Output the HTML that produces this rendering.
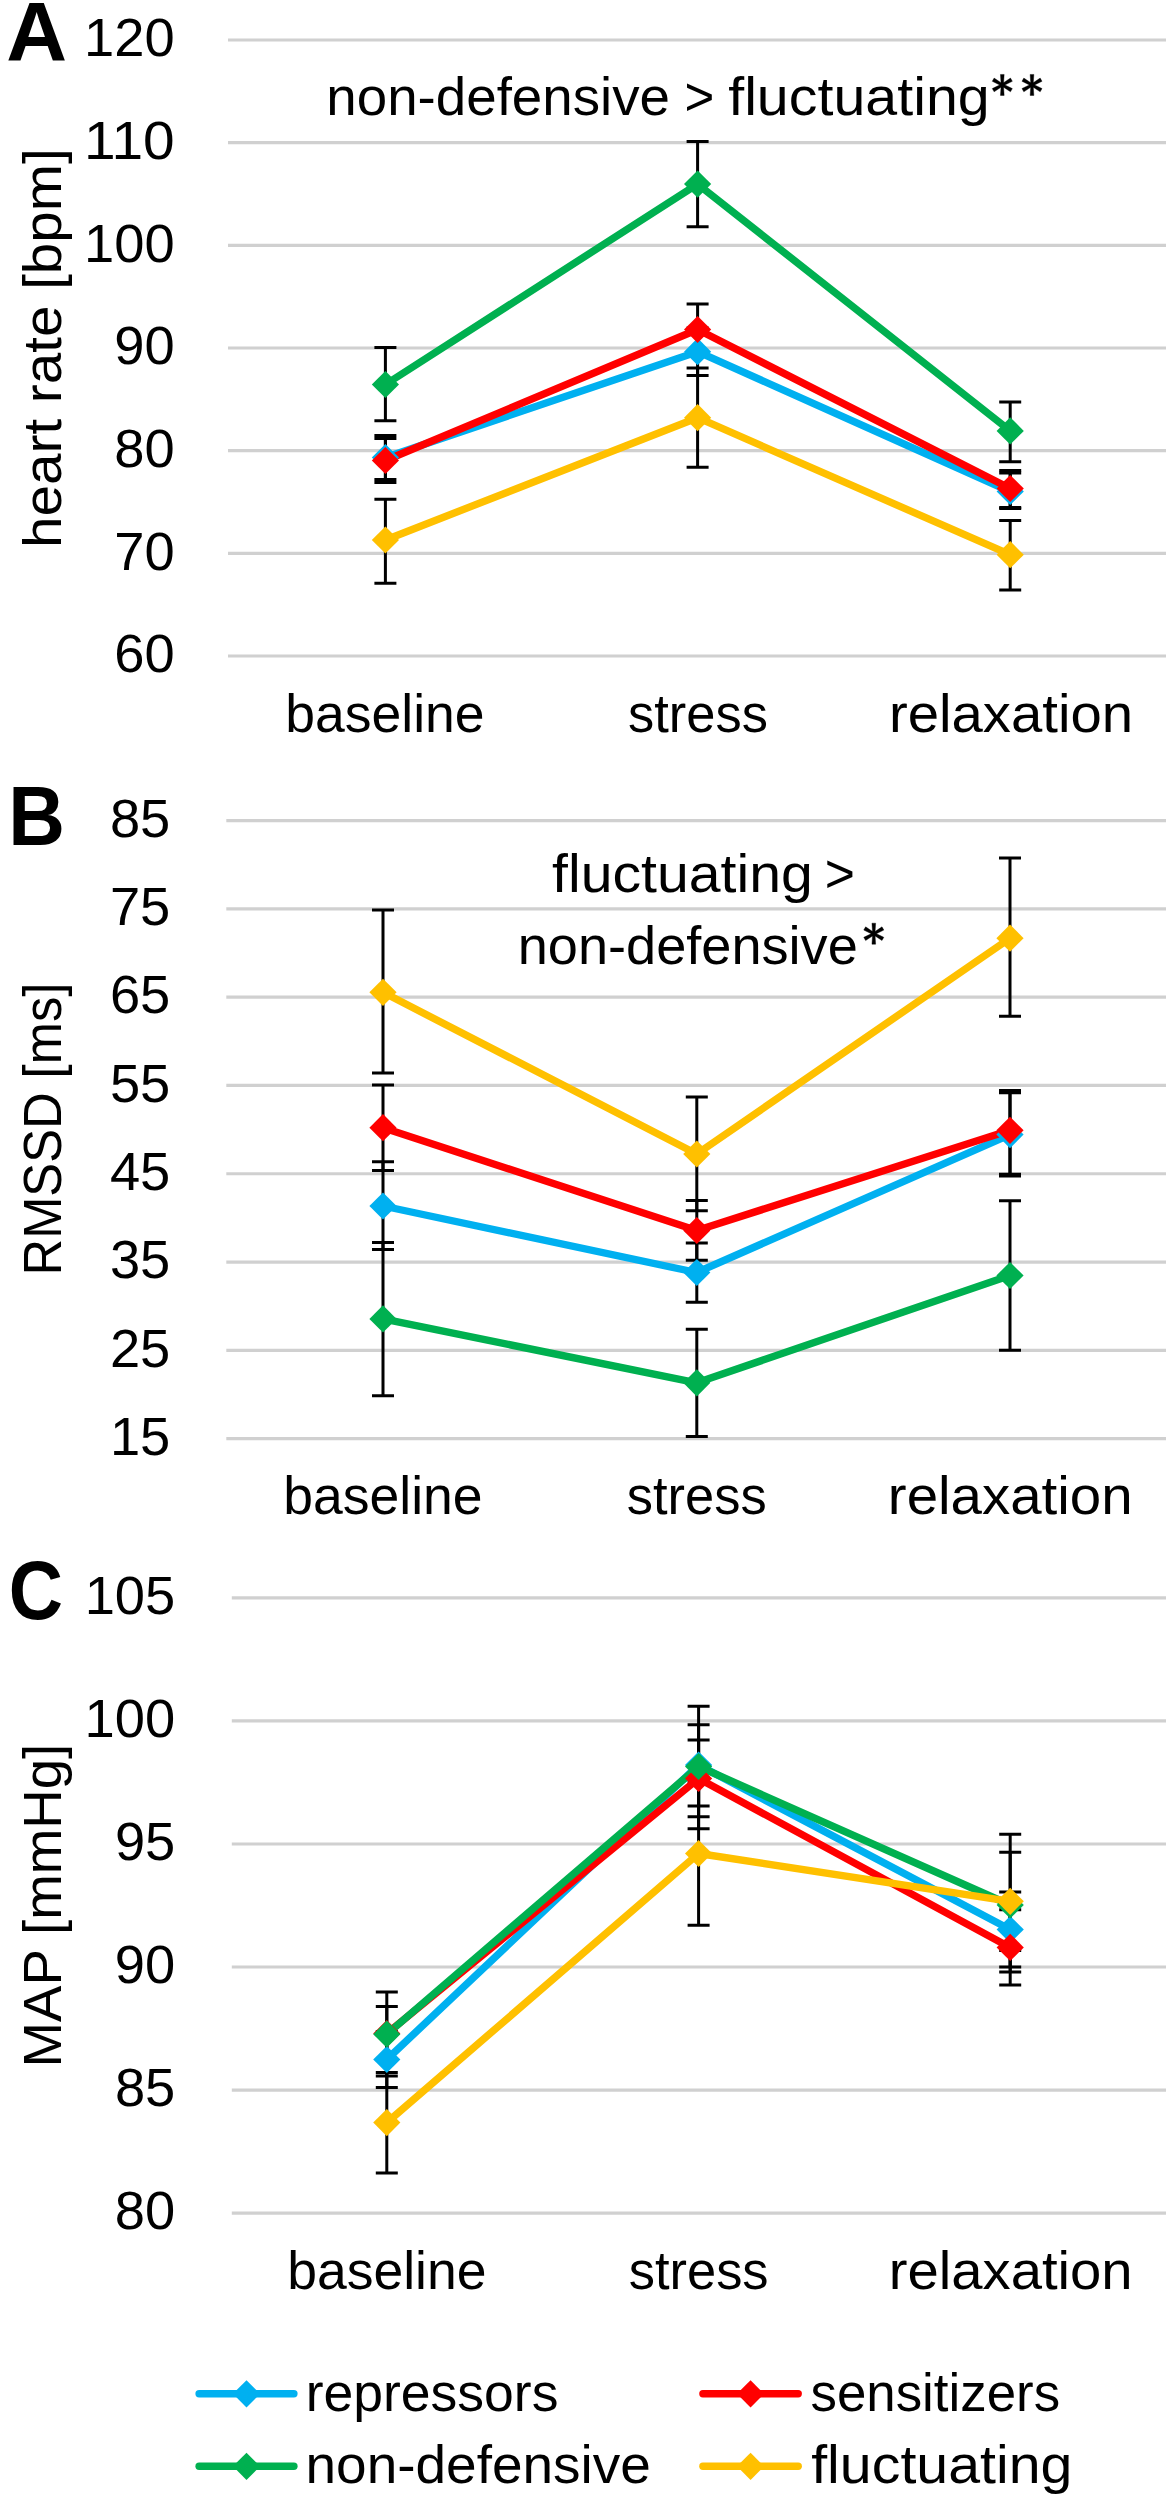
<!DOCTYPE html>
<html><head><meta charset="utf-8"><style>
html,body{margin:0;padding:0;background:#fff;}
svg{display:block;}
text{font-family:"Liberation Sans",sans-serif;fill:#000;}
</style></head><body>
<svg width="1171" height="2500" viewBox="0 0 1171 2500">
<rect width="1171" height="2500" fill="#fff"/>
<line x1="228" y1="40.00" x2="1166" y2="40.00" stroke="#d0d0d0" stroke-width="3.2"/>
<line x1="228" y1="142.67" x2="1166" y2="142.67" stroke="#d0d0d0" stroke-width="3.2"/>
<line x1="228" y1="245.34" x2="1166" y2="245.34" stroke="#d0d0d0" stroke-width="3.2"/>
<line x1="228" y1="348.01" x2="1166" y2="348.01" stroke="#d0d0d0" stroke-width="3.2"/>
<line x1="228" y1="450.68" x2="1166" y2="450.68" stroke="#d0d0d0" stroke-width="3.2"/>
<line x1="228" y1="553.35" x2="1166" y2="553.35" stroke="#d0d0d0" stroke-width="3.2"/>
<line x1="228" y1="656.02" x2="1166" y2="656.02" stroke="#d0d0d0" stroke-width="3.2"/>
<path d="M385.40 435.50V479.50M374.40 435.50H396.40M374.40 479.50H396.40" stroke="#000" stroke-width="3.0" fill="none"/>
<path d="M697.60 328.00V375.40M686.60 328.00H708.60M686.60 375.40H708.60" stroke="#000" stroke-width="3.0" fill="none"/>
<path d="M1010.20 473.00V508.50M999.20 473.00H1021.20M999.20 508.50H1021.20" stroke="#000" stroke-width="3.0" fill="none"/>
<path d="M385.40 438.50V482.50M374.40 438.50H396.40M374.40 482.50H396.40" stroke="#000" stroke-width="3.0" fill="none"/>
<path d="M697.60 304.10V355.00M686.60 304.10H708.60M686.60 355.00H708.60" stroke="#000" stroke-width="3.0" fill="none"/>
<path d="M1010.20 470.50V507.50M999.20 470.50H1021.20M999.20 507.50H1021.20" stroke="#000" stroke-width="3.0" fill="none"/>
<path d="M385.40 347.60V420.80M374.40 347.60H396.40M374.40 420.80H396.40" stroke="#000" stroke-width="3.0" fill="none"/>
<path d="M697.60 141.40V226.80M686.60 141.40H708.60M686.60 226.80H708.60" stroke="#000" stroke-width="3.0" fill="none"/>
<path d="M1010.20 401.90V461.80M999.20 401.90H1021.20M999.20 461.80H1021.20" stroke="#000" stroke-width="3.0" fill="none"/>
<path d="M385.40 499.20V583.30M374.40 499.20H396.40M374.40 583.30H396.40" stroke="#000" stroke-width="3.0" fill="none"/>
<path d="M697.60 368.10V467.20M686.60 368.10H708.60M686.60 467.20H708.60" stroke="#000" stroke-width="3.0" fill="none"/>
<path d="M1010.20 520.50V590.00M999.20 520.50H1021.20M999.20 590.00H1021.20" stroke="#000" stroke-width="3.0" fill="none"/>
<path d="M385.40 457.50L697.60 351.70L1010.20 491.50" stroke="#00b0f0" stroke-width="7.4" fill="none" stroke-linejoin="round"/>
<path d="M385.40 460.50L697.60 329.50L1010.20 488.50" stroke="#ff0000" stroke-width="7.4" fill="none" stroke-linejoin="round"/>
<path d="M385.40 384.50L697.60 184.10L1010.20 430.90" stroke="#00b050" stroke-width="7.4" fill="none" stroke-linejoin="round"/>
<path d="M385.40 540.00L697.60 417.70L1010.20 554.70" stroke="#ffc000" stroke-width="7.4" fill="none" stroke-linejoin="round"/>
<path d="M385.40 443.90L399.00 457.50L385.40 471.10L371.80 457.50Z" fill="#00b0f0"/>
<path d="M697.60 338.10L711.20 351.70L697.60 365.30L684.00 351.70Z" fill="#00b0f0"/>
<path d="M1010.20 477.90L1023.80 491.50L1010.20 505.10L996.60 491.50Z" fill="#00b0f0"/>
<path d="M385.40 446.90L399.00 460.50L385.40 474.10L371.80 460.50Z" fill="#ff0000"/>
<path d="M697.60 315.90L711.20 329.50L697.60 343.10L684.00 329.50Z" fill="#ff0000"/>
<path d="M1010.20 474.90L1023.80 488.50L1010.20 502.10L996.60 488.50Z" fill="#ff0000"/>
<path d="M385.40 370.90L399.00 384.50L385.40 398.10L371.80 384.50Z" fill="#00b050"/>
<path d="M697.60 170.50L711.20 184.10L697.60 197.70L684.00 184.10Z" fill="#00b050"/>
<path d="M1010.20 417.30L1023.80 430.90L1010.20 444.50L996.60 430.90Z" fill="#00b050"/>
<path d="M385.40 526.40L399.00 540.00L385.40 553.60L371.80 540.00Z" fill="#ffc000"/>
<path d="M697.60 404.10L711.20 417.70L697.60 431.30L684.00 417.70Z" fill="#ffc000"/>
<path d="M1010.20 541.10L1023.80 554.70L1010.20 568.30L996.60 554.70Z" fill="#ffc000"/>
<line x1="226.3" y1="820.60" x2="1166" y2="820.60" stroke="#d0d0d0" stroke-width="3.2"/>
<line x1="226.3" y1="908.89" x2="1166" y2="908.89" stroke="#d0d0d0" stroke-width="3.2"/>
<line x1="226.3" y1="997.18" x2="1166" y2="997.18" stroke="#d0d0d0" stroke-width="3.2"/>
<line x1="226.3" y1="1085.47" x2="1166" y2="1085.47" stroke="#d0d0d0" stroke-width="3.2"/>
<line x1="226.3" y1="1173.76" x2="1166" y2="1173.76" stroke="#d0d0d0" stroke-width="3.2"/>
<line x1="226.3" y1="1262.05" x2="1166" y2="1262.05" stroke="#d0d0d0" stroke-width="3.2"/>
<line x1="226.3" y1="1350.34" x2="1166" y2="1350.34" stroke="#d0d0d0" stroke-width="3.2"/>
<line x1="226.3" y1="1438.63" x2="1166" y2="1438.63" stroke="#d0d0d0" stroke-width="3.2"/>
<path d="M383.00 1161.80V1249.50M372.00 1161.80H394.00M372.00 1249.50H394.00" stroke="#000" stroke-width="3.0" fill="none"/>
<path d="M696.80 1243.00V1302.20M685.80 1243.00H707.80M685.80 1302.20H707.80" stroke="#000" stroke-width="3.0" fill="none"/>
<path d="M1010.00 1092.80V1176.00M999.00 1092.80H1021.00M999.00 1176.00H1021.00" stroke="#000" stroke-width="3.0" fill="none"/>
<path d="M383.00 1085.00V1170.40M372.00 1085.00H394.00M372.00 1170.40H394.00" stroke="#000" stroke-width="3.0" fill="none"/>
<path d="M696.80 1200.40V1260.30M685.80 1200.40H707.80M685.80 1260.30H707.80" stroke="#000" stroke-width="3.0" fill="none"/>
<path d="M1010.00 1090.60V1174.30M999.00 1090.60H1021.00M999.00 1174.30H1021.00" stroke="#000" stroke-width="3.0" fill="none"/>
<path d="M383.00 1242.40V1395.70M372.00 1242.40H394.00M372.00 1395.70H394.00" stroke="#000" stroke-width="3.0" fill="none"/>
<path d="M696.80 1329.20V1436.50M685.80 1329.20H707.80M685.80 1436.50H707.80" stroke="#000" stroke-width="3.0" fill="none"/>
<path d="M1010.00 1200.80V1350.20M999.00 1200.80H1021.00M999.00 1350.20H1021.00" stroke="#000" stroke-width="3.0" fill="none"/>
<path d="M383.00 909.90V1073.00M372.00 909.90H394.00M372.00 1073.00H394.00" stroke="#000" stroke-width="3.0" fill="none"/>
<path d="M696.80 1096.90V1210.80M685.80 1096.90H707.80M685.80 1210.80H707.80" stroke="#000" stroke-width="3.0" fill="none"/>
<path d="M1010.00 857.90V1016.30M999.00 857.90H1021.00M999.00 1016.30H1021.00" stroke="#000" stroke-width="3.0" fill="none"/>
<path d="M383.00 1206.00L696.80 1272.50L1010.00 1134.60" stroke="#00b0f0" stroke-width="7.4" fill="none" stroke-linejoin="round"/>
<path d="M383.00 1127.70L696.80 1230.50L1010.00 1130.30" stroke="#ff0000" stroke-width="7.4" fill="none" stroke-linejoin="round"/>
<path d="M383.00 1318.90L696.80 1382.80L1010.00 1275.50" stroke="#00b050" stroke-width="7.4" fill="none" stroke-linejoin="round"/>
<path d="M383.00 992.30L696.80 1154.00L1010.00 938.20" stroke="#ffc000" stroke-width="7.4" fill="none" stroke-linejoin="round"/>
<path d="M383.00 1192.40L396.60 1206.00L383.00 1219.60L369.40 1206.00Z" fill="#00b0f0"/>
<path d="M696.80 1258.90L710.40 1272.50L696.80 1286.10L683.20 1272.50Z" fill="#00b0f0"/>
<path d="M1010.00 1121.00L1023.60 1134.60L1010.00 1148.20L996.40 1134.60Z" fill="#00b0f0"/>
<path d="M383.00 1114.10L396.60 1127.70L383.00 1141.30L369.40 1127.70Z" fill="#ff0000"/>
<path d="M696.80 1216.90L710.40 1230.50L696.80 1244.10L683.20 1230.50Z" fill="#ff0000"/>
<path d="M1010.00 1116.70L1023.60 1130.30L1010.00 1143.90L996.40 1130.30Z" fill="#ff0000"/>
<path d="M383.00 1305.30L396.60 1318.90L383.00 1332.50L369.40 1318.90Z" fill="#00b050"/>
<path d="M696.80 1369.20L710.40 1382.80L696.80 1396.40L683.20 1382.80Z" fill="#00b050"/>
<path d="M1010.00 1261.90L1023.60 1275.50L1010.00 1289.10L996.40 1275.50Z" fill="#00b050"/>
<path d="M383.00 978.70L396.60 992.30L383.00 1005.90L369.40 992.30Z" fill="#ffc000"/>
<path d="M696.80 1140.40L710.40 1154.00L696.80 1167.60L683.20 1154.00Z" fill="#ffc000"/>
<path d="M1010.00 924.60L1023.60 938.20L1010.00 951.80L996.40 938.20Z" fill="#ffc000"/>
<line x1="231.8" y1="1597.90" x2="1166" y2="1597.90" stroke="#d0d0d0" stroke-width="3.2"/>
<line x1="231.8" y1="1720.94" x2="1166" y2="1720.94" stroke="#d0d0d0" stroke-width="3.2"/>
<line x1="231.8" y1="1843.98" x2="1166" y2="1843.98" stroke="#d0d0d0" stroke-width="3.2"/>
<line x1="231.8" y1="1967.02" x2="1166" y2="1967.02" stroke="#d0d0d0" stroke-width="3.2"/>
<line x1="231.8" y1="2090.06" x2="1166" y2="2090.06" stroke="#d0d0d0" stroke-width="3.2"/>
<line x1="231.8" y1="2213.10" x2="1166" y2="2213.10" stroke="#d0d0d0" stroke-width="3.2"/>
<path d="M386.80 2031.40V2087.60M375.80 2031.40H397.80M375.80 2087.60H397.80" stroke="#000" stroke-width="3.0" fill="none"/>
<path d="M698.60 1724.80V1806.10M687.60 1724.80H709.60M687.60 1806.10H709.60" stroke="#000" stroke-width="3.0" fill="none"/>
<path d="M1010.20 1891.90V1967.00M999.20 1891.90H1021.20M999.20 1967.00H1021.20" stroke="#000" stroke-width="3.0" fill="none"/>
<path d="M386.80 2006.40V2059.60M375.80 2006.40H397.80M375.80 2059.60H397.80" stroke="#000" stroke-width="3.0" fill="none"/>
<path d="M698.60 1740.00V1816.80M687.60 1740.00H709.60M687.60 1816.80H709.60" stroke="#000" stroke-width="3.0" fill="none"/>
<path d="M1010.20 1909.80V1985.00M999.20 1909.80H1021.20M999.20 1985.00H1021.20" stroke="#000" stroke-width="3.0" fill="none"/>
<path d="M386.80 1992.10V2076.00M375.80 1992.10H397.80M375.80 2076.00H397.80" stroke="#000" stroke-width="3.0" fill="none"/>
<path d="M698.60 1706.20V1828.80M687.60 1706.20H709.60M687.60 1828.80H709.60" stroke="#000" stroke-width="3.0" fill="none"/>
<path d="M1010.20 1834.30V1972.00M999.20 1834.30H1021.20M999.20 1972.00H1021.20" stroke="#000" stroke-width="3.0" fill="none"/>
<path d="M386.80 2072.40V2172.90M375.80 2072.40H397.80M375.80 2172.90H397.80" stroke="#000" stroke-width="3.0" fill="none"/>
<path d="M698.60 1781.80V1925.20M687.60 1781.80H709.60M687.60 1925.20H709.60" stroke="#000" stroke-width="3.0" fill="none"/>
<path d="M1010.20 1852.20V1950.40M999.20 1852.20H1021.20M999.20 1950.40H1021.20" stroke="#000" stroke-width="3.0" fill="none"/>
<path d="M386.80 2059.50L698.60 1765.00L1010.20 1929.50" stroke="#00b0f0" stroke-width="7.4" fill="none" stroke-linejoin="round"/>
<path d="M386.80 2033.50L698.60 1778.50L1010.20 1947.40" stroke="#ff0000" stroke-width="7.4" fill="none" stroke-linejoin="round"/>
<path d="M386.80 2034.20L698.60 1766.50L1010.20 1905.00" stroke="#00b050" stroke-width="7.4" fill="none" stroke-linejoin="round"/>
<path d="M386.80 2122.60L698.60 1853.50L1010.20 1901.30" stroke="#ffc000" stroke-width="7.4" fill="none" stroke-linejoin="round"/>
<path d="M386.80 2045.90L400.40 2059.50L386.80 2073.10L373.20 2059.50Z" fill="#00b0f0"/>
<path d="M698.60 1751.40L712.20 1765.00L698.60 1778.60L685.00 1765.00Z" fill="#00b0f0"/>
<path d="M1010.20 1915.90L1023.80 1929.50L1010.20 1943.10L996.60 1929.50Z" fill="#00b0f0"/>
<path d="M386.80 2019.90L400.40 2033.50L386.80 2047.10L373.20 2033.50Z" fill="#ff0000"/>
<path d="M698.60 1764.90L712.20 1778.50L698.60 1792.10L685.00 1778.50Z" fill="#ff0000"/>
<path d="M1010.20 1933.80L1023.80 1947.40L1010.20 1961.00L996.60 1947.40Z" fill="#ff0000"/>
<path d="M386.80 2020.60L400.40 2034.20L386.80 2047.80L373.20 2034.20Z" fill="#00b050"/>
<path d="M698.60 1752.90L712.20 1766.50L698.60 1780.10L685.00 1766.50Z" fill="#00b050"/>
<path d="M1010.20 1891.40L1023.80 1905.00L1010.20 1918.60L996.60 1905.00Z" fill="#00b050"/>
<path d="M386.80 2109.00L400.40 2122.60L386.80 2136.20L373.20 2122.60Z" fill="#ffc000"/>
<path d="M698.60 1839.90L712.20 1853.50L698.60 1867.10L685.00 1853.50Z" fill="#ffc000"/>
<path d="M1010.20 1887.70L1023.80 1901.30L1010.20 1914.90L996.60 1901.30Z" fill="#ffc000"/>
<line x1="199.10" y1="2393.80" x2="293.90" y2="2393.80" stroke="#00b0f0" stroke-width="7.4" stroke-linecap="round"/>
<path d="M246.50 2380.20L260.10 2393.80L246.50 2407.40L232.90 2393.80Z" fill="#00b0f0"/>
<line x1="702.90" y1="2393.80" x2="798.20" y2="2393.80" stroke="#ff0000" stroke-width="7.4" stroke-linecap="round"/>
<path d="M750.55 2380.20L764.15 2393.80L750.55 2407.40L736.95 2393.80Z" fill="#ff0000"/>
<line x1="199.10" y1="2466.30" x2="293.90" y2="2466.30" stroke="#00b050" stroke-width="7.4" stroke-linecap="round"/>
<path d="M246.50 2452.70L260.10 2466.30L246.50 2479.90L232.90 2466.30Z" fill="#00b050"/>
<line x1="702.90" y1="2466.30" x2="798.20" y2="2466.30" stroke="#ffc000" stroke-width="7.4" stroke-linecap="round"/>
<path d="M750.55 2452.70L764.15 2466.30L750.55 2479.90L736.95 2466.30Z" fill="#ffc000"/>
<text x="6.20" y="60.90" font-size="82.85" font-weight="bold" textLength="60.82" lengthAdjust="spacingAndGlyphs">A</text>
<text x="8.15" y="844.80" font-size="82.70" font-weight="bold" textLength="56.72" lengthAdjust="spacingAndGlyphs">B</text>
<text x="8.72" y="1619.00" font-size="83.07" font-weight="bold" textLength="54.23" lengthAdjust="spacingAndGlyphs">C</text>
<text x="84.02" y="56.30" font-size="54.30" font-weight="normal" textLength="90.60" lengthAdjust="spacingAndGlyphs">120</text>
<text x="84.02" y="158.97" font-size="54.30" font-weight="normal" textLength="90.60" lengthAdjust="spacingAndGlyphs">110</text>
<text x="84.02" y="261.64" font-size="54.30" font-weight="normal" textLength="90.60" lengthAdjust="spacingAndGlyphs">100</text>
<text x="114.22" y="364.31" font-size="54.30" font-weight="normal" textLength="60.40" lengthAdjust="spacingAndGlyphs">90</text>
<text x="114.22" y="466.98" font-size="54.30" font-weight="normal" textLength="60.40" lengthAdjust="spacingAndGlyphs">80</text>
<text x="114.22" y="569.65" font-size="54.30" font-weight="normal" textLength="60.40" lengthAdjust="spacingAndGlyphs">70</text>
<text x="114.22" y="672.32" font-size="54.30" font-weight="normal" textLength="60.40" lengthAdjust="spacingAndGlyphs">60</text>
<text x="109.88" y="836.90" font-size="54.30" font-weight="normal" textLength="60.40" lengthAdjust="spacingAndGlyphs">85</text>
<text x="109.88" y="925.19" font-size="54.30" font-weight="normal" textLength="60.40" lengthAdjust="spacingAndGlyphs">75</text>
<text x="109.88" y="1013.48" font-size="54.30" font-weight="normal" textLength="60.40" lengthAdjust="spacingAndGlyphs">65</text>
<text x="109.88" y="1101.77" font-size="54.30" font-weight="normal" textLength="60.40" lengthAdjust="spacingAndGlyphs">55</text>
<text x="109.88" y="1190.06" font-size="54.30" font-weight="normal" textLength="60.40" lengthAdjust="spacingAndGlyphs">45</text>
<text x="109.88" y="1278.35" font-size="54.30" font-weight="normal" textLength="60.40" lengthAdjust="spacingAndGlyphs">35</text>
<text x="109.88" y="1366.64" font-size="54.30" font-weight="normal" textLength="60.40" lengthAdjust="spacingAndGlyphs">25</text>
<text x="109.88" y="1454.93" font-size="54.30" font-weight="normal" textLength="60.40" lengthAdjust="spacingAndGlyphs">15</text>
<text x="84.68" y="1614.20" font-size="54.30" font-weight="normal" textLength="90.60" lengthAdjust="spacingAndGlyphs">105</text>
<text x="84.52" y="1737.24" font-size="54.30" font-weight="normal" textLength="90.60" lengthAdjust="spacingAndGlyphs">100</text>
<text x="114.88" y="1860.28" font-size="54.30" font-weight="normal" textLength="60.40" lengthAdjust="spacingAndGlyphs">95</text>
<text x="114.72" y="1983.32" font-size="54.30" font-weight="normal" textLength="60.40" lengthAdjust="spacingAndGlyphs">90</text>
<text x="114.88" y="2106.36" font-size="54.30" font-weight="normal" textLength="60.40" lengthAdjust="spacingAndGlyphs">85</text>
<text x="114.72" y="2229.40" font-size="54.30" font-weight="normal" textLength="60.40" lengthAdjust="spacingAndGlyphs">80</text>
<text transform="rotate(-90)" x="-547.93" y="60.90" font-size="53.00" textLength="399.66" lengthAdjust="spacingAndGlyphs">heart rate [bpm]</text>
<text transform="rotate(-90)" x="-1275.46" y="60.90" font-size="53.00" textLength="292.77" lengthAdjust="spacingAndGlyphs">RMSSD [ms]</text>
<text transform="rotate(-90)" x="-2067.47" y="60.90" font-size="53.00" textLength="323.75" lengthAdjust="spacingAndGlyphs">MAP [mmHg]</text>
<text x="326.37" y="114.80" font-size="53.00" font-weight="normal" textLength="343.56" lengthAdjust="spacingAndGlyphs">non-defensive</text>
<text x="684.58" y="114.80" font-size="53.00" font-weight="normal" textLength="29.81" lengthAdjust="spacingAndGlyphs">&gt;</text>
<text x="728.19" y="114.80" font-size="53.00" font-weight="normal" textLength="261.51" lengthAdjust="spacingAndGlyphs">fluctuating</text>
<text x="552.09" y="891.90" font-size="53.00" font-weight="normal" textLength="260.70" lengthAdjust="spacingAndGlyphs">fluctuating</text>
<text x="824.75" y="891.90" font-size="53.00" font-weight="normal" textLength="30.17" lengthAdjust="spacingAndGlyphs">&gt;</text>
<text x="517.70" y="964.00" font-size="53.00" font-weight="normal" textLength="340.10" lengthAdjust="spacingAndGlyphs">non-defensive</text>
<path d="M1004.15 74.45L1003.45 84.95L1004.15 95.45L1000.45 95.45L1001.15 84.95L1000.45 74.45ZM1012.32 81.30L1002.88 85.95L994.13 91.80L992.28 88.60L1001.72 83.95L1010.47 78.10ZM1010.47 91.80L1001.72 85.95L992.28 81.30L994.13 78.10L1002.88 83.95L1012.32 88.60Z" fill="#000" stroke="#000" stroke-width="0.4" stroke-linejoin="round"/>
<path d="M1033.85 74.45L1033.15 84.95L1033.85 95.45L1030.15 95.45L1030.85 84.95L1030.15 74.45ZM1042.02 81.30L1032.58 85.95L1023.83 91.80L1021.98 88.60L1031.42 83.95L1040.17 78.10ZM1040.17 91.80L1031.42 85.95L1021.98 81.30L1023.83 78.10L1032.58 83.95L1042.02 88.60Z" fill="#000" stroke="#000" stroke-width="0.4" stroke-linejoin="round"/>
<path d="M875.65 923.20L874.95 933.70L875.65 944.20L871.95 944.20L872.65 933.70L871.95 923.20ZM883.82 930.05L874.38 934.70L865.63 940.55L863.78 937.35L873.22 932.70L881.97 926.85ZM881.97 940.55L873.22 934.70L863.78 930.05L865.63 926.85L874.38 932.70L883.82 937.35Z" fill="#000" stroke="#000" stroke-width="0.4" stroke-linejoin="round"/>
<text x="285.25" y="731.80" font-size="53.00" font-weight="normal" textLength="199.33" lengthAdjust="spacingAndGlyphs">baseline</text>
<text x="628.04" y="731.80" font-size="53.00" font-weight="normal" textLength="139.85" lengthAdjust="spacingAndGlyphs">stress</text>
<text x="888.96" y="731.80" font-size="53.00" font-weight="normal" textLength="244.09" lengthAdjust="spacingAndGlyphs">relaxation</text>
<text x="283.25" y="1514.40" font-size="53.00" font-weight="normal" textLength="199.33" lengthAdjust="spacingAndGlyphs">baseline</text>
<text x="626.84" y="1514.40" font-size="53.00" font-weight="normal" textLength="139.85" lengthAdjust="spacingAndGlyphs">stress</text>
<text x="887.85" y="1514.40" font-size="53.00" font-weight="normal" textLength="244.82" lengthAdjust="spacingAndGlyphs">relaxation</text>
<text x="287.15" y="2288.90" font-size="53.00" font-weight="normal" textLength="199.33" lengthAdjust="spacingAndGlyphs">baseline</text>
<text x="628.74" y="2288.90" font-size="53.00" font-weight="normal" textLength="139.85" lengthAdjust="spacingAndGlyphs">stress</text>
<text x="888.76" y="2288.90" font-size="53.00" font-weight="normal" textLength="243.89" lengthAdjust="spacingAndGlyphs">relaxation</text>
<text x="305.65" y="2410.50" font-size="53.00" font-weight="normal" textLength="252.79" lengthAdjust="spacingAndGlyphs">repressors</text>
<text x="810.53" y="2410.50" font-size="53.00" font-weight="normal" textLength="249.58" lengthAdjust="spacingAndGlyphs">sensitizers</text>
<text x="305.55" y="2483.00" font-size="53.00" font-weight="normal" textLength="345.19" lengthAdjust="spacingAndGlyphs">non-defensive</text>
<text x="811.19" y="2483.00" font-size="53.00" font-weight="normal" textLength="261.31" lengthAdjust="spacingAndGlyphs">fluctuating</text>
</svg>
</body></html>
